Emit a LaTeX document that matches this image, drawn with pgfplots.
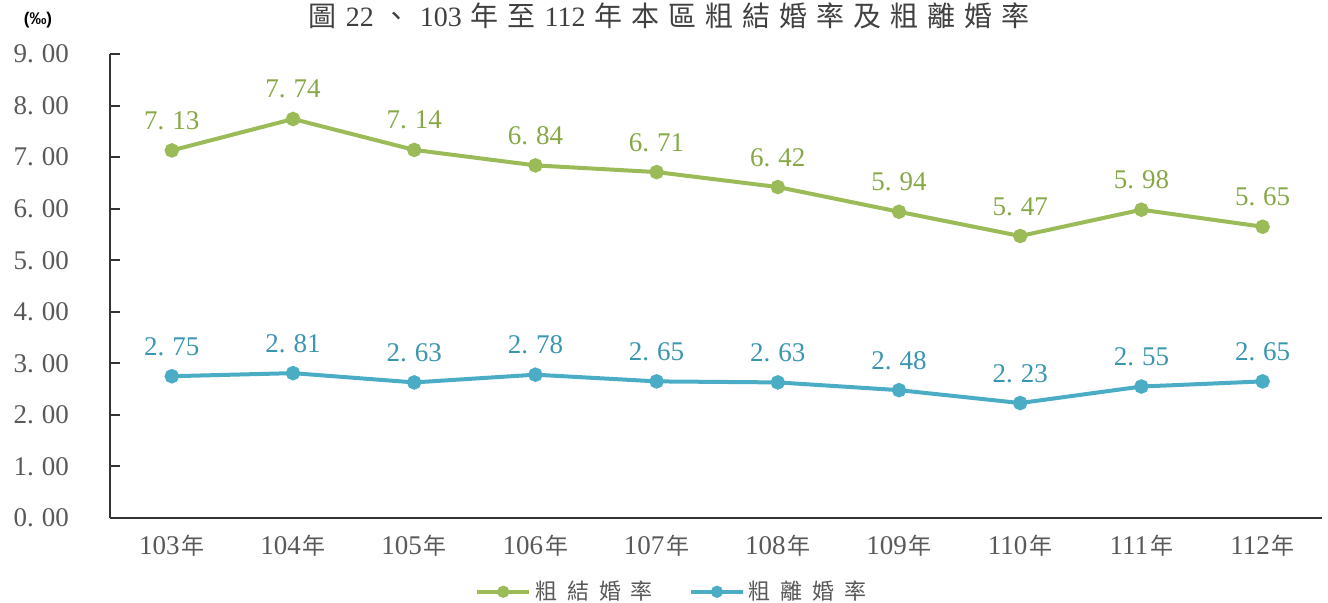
\documentclass[border=0pt]{standalone}
\usepackage{fontspec}
\usepackage{pgfplots}
\pgfplotsset{compat=1.18}
\setmainfont{Liberation Serif}
\newfontfamily\cjk{Noto Sans CJK TC}
\newfontfamily\cjkls[LetterSpace=45]{Noto Sans CJK TC}
\newfontfamily\cjkT[LetterSpace=32]{Noto Sans CJK TC}
\newfontfamily\pmfont{Liberation Sans}
\definecolor{grn}{HTML}{9BBB59}
\definecolor{grnT}{HTML}{86A846}
\definecolor{blu}{HTML}{4BACC6}
\definecolor{bluT}{HTML}{3A96B0}
\definecolor{tk}{HTML}{595959}
\newcommand\nian{{\cjk\fontsize{11.5}{11.5}\selectfont\hspace{1pt}年}}
\newcommand\g{\hspace{4.5pt}}
\begin{document}
\begin{tikzpicture}
\begin{axis}[
  scale only axis,
  width=606pt, height=232pt,
  at={(0,0)}, anchor=south west,
  xmin=-0.51, xmax=9.49,
  ymin=0, ymax=9,
  axis lines=left,
  axis line style={black!80, line width=1pt, -},
  xtick=data,
  xticklabels={103\nian,104\nian,105\nian,106\nian,107\nian,108\nian,109\nian,110\nian,111\nian,112\nian},
  xtick style={draw=none},
  ytick={0,1,...,9},
  ytick style={black!80, line width=1pt},
  tickwidth=5pt,
  tick align=inside,
  /pgf/number format/.cd, fixed, fixed zerofill, precision=2, assume math mode=true,
    set decimal separator={.\hspace{4pt}},
  /pgfplots/.cd,
  ticklabel style={font=\fontsize{13.5}{14}\selectfont, text=tk},
  yticklabel style={xshift=-17pt},
  xticklabel style={yshift=-5pt},
  nodes near coords,
  point meta=y,
  every node near coord/.append style={font=\fontsize{13.5}{14}\selectfont, anchor=base, inner sep=0pt, yshift=10.5pt},
  legend style={at={(0.4645,-0.159)}, anchor=center, draw=none, legend columns=2,
    font=\cjkls\fontsize{11}{12}\selectfont, text=tk,
    /tikz/every even column/.append style={column sep=16pt}},
  legend image code/.code={\draw[mark repeat=2, mark phase=2, mark size=2pt] plot coordinates {(0pt,0pt) (13pt,0pt) (26pt,0pt)};},
]
\addplot[grn, line width=2pt, mark=*, mark size=2.6pt, every node near coord/.append style={text=grnT}] coordinates {
(0,7.13) (1,7.74) (2,7.14) (3,6.84) (4,6.71) (5,6.42) (6,5.94) (7,5.47) (8,5.98) (9,5.65)};
\addlegendentry{粗結婚率}
\addplot[blu, line width=2pt, mark=*, mark size=2.6pt, every node near coord/.append style={text=bluT}] coordinates {
(0,2.75) (1,2.81) (2,2.63) (3,2.78) (4,2.65) (5,2.63) (6,2.48) (7,2.23) (8,2.55) (9,2.65)};
\addlegendentry{粗離婚率}
\end{axis}
\node[text=black!75, font=\fontsize{14}{14}\selectfont] at (279.5pt,251pt) {{\cjkT 圖}\g 22\g{\cjkT 、}\g 103\g{\cjkT 年至}\g 112\g{\cjkT 年本區粗結婚率及粗離婚率}};
\node[text=black, font=\pmfont\bfseries\fontsize{8.5}{9}\selectfont] at (-36pt,249pt) {(‰)};
\pgfresetboundingbox
\path[use as bounding box] (-55pt,-42pt) rectangle (609pt,259pt);
\end{tikzpicture}
\end{document}
